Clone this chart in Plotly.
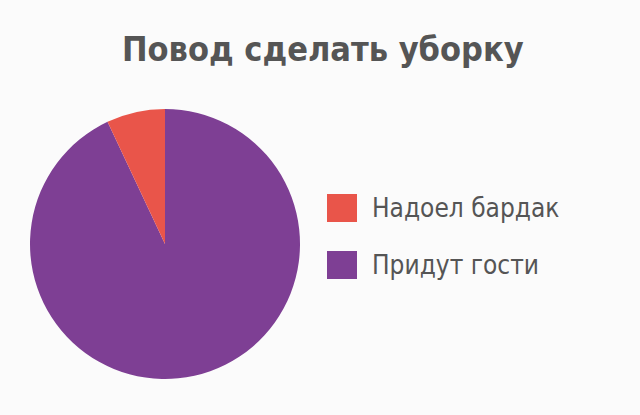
import plotly.graph_objects as go

title = "Повод сделать уборку"
labels = ["Надоел бардак", "Придут гости"]
values = [7, 93]
colors = ["#e9554a", "#7e3f94"]

W, H = 640, 415
fig = go.Figure()
# purple drawn first clockwise from 12 o'clock so the red slice sits just left of 12
fig.add_trace(go.Pie(
    labels=labels[::-1], values=values[::-1], sort=False, direction="clockwise",
    rotation=0, textinfo="none", hoverinfo="label+percent",
    marker=dict(colors=colors[::-1], line=dict(width=0)),
    domain=dict(x=[30 / W, 300 / W], y=[(H - 379) / H, (H - 109) / H]),
    showlegend=False,
))

# custom legend built from labels/colors
legend_y = [208, 265]
for lab, col, yc in zip(labels, colors, legend_y):
    fig.add_shape(type="rect", xref="paper", yref="paper",
                  x0=327 / W, x1=357 / W, y0=(H - yc - 14) / H, y1=(H - yc + 14) / H,
                  fillcolor=col, line=dict(width=0))
    fig.add_annotation(x=370 / W, y=(H - yc) / H, xref="paper", yref="paper",
                       text=lab, showarrow=False, xanchor="left", yanchor="middle",
                       font=dict(family="DejaVu Sans Condensed", size=26, color="#555555"))

fig.add_annotation(x=0.504, y=(H - 49) / H, xref="paper", yref="paper", text=f"<b>{title}</b>",
                   showarrow=False, xanchor="center", yanchor="middle",
                   font=dict(family="DejaVu Sans Condensed", size=34, color="#555555"))

fig.update_layout(width=W, height=H, margin=dict(l=0, r=0, t=0, b=0),
                  paper_bgcolor="#fbfbfb", plot_bgcolor="#fbfbfb")
fig.write_html("out.html", config={"displayModeBar": False},
               post_script="document.body.style.margin='0';document.body.style.background='#fbfbfb';")
